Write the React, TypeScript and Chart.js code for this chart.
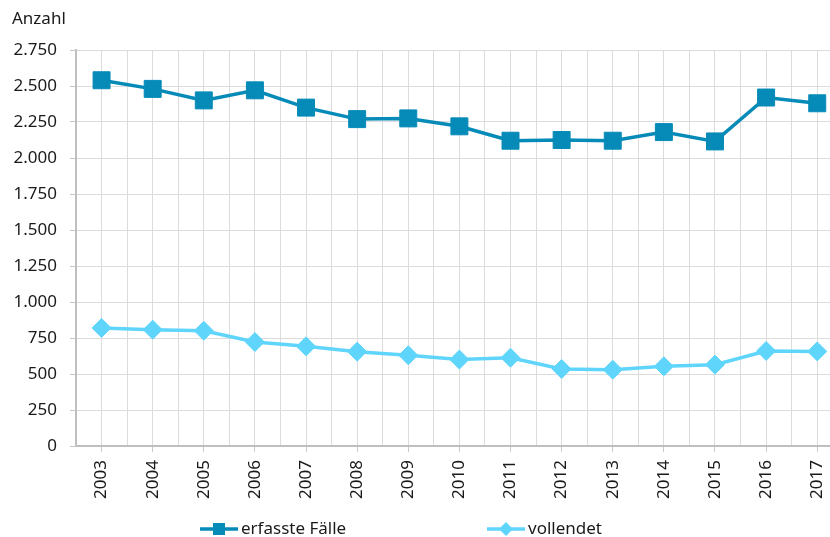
import React, { useEffect, useRef } from 'react';
import { Chart, registerables } from 'chart.js';

Chart.register(...registerables);

// ---- data ----
const years = ['2003', '2004', '2005', '2006', '2007', '2008', '2009', '2010', '2011', '2012', '2013', '2014', '2015', '2016', '2017'];
const erfassteFaelle = [2540, 2480, 2400, 2470, 2350, 2270, 2275, 2220, 2120, 2125, 2120, 2180, 2115, 2420, 2380];
const vollendet = [820, 808, 800, 722, 692, 655, 630, 600, 613, 535, 530, 553, 565, 660, 657];
const seriesLabels = ['erfasste Fälle', 'vollendet'];
const yAxisTitle = 'Anzahl';
const yMax = 2750;
const yStep = 250;

// ---- style ----
const DARK = '#068bb8';
const LIGHT = '#5fd5fc';
const TEXT = '#1a1a1a';
const GRID = '#dcdcdc';
const AXIS = '#bfbfbf';
const FONT = '"Noto Sans", "Open Sans", sans-serif';
const FS = 17;

const fmt = (v: number) => String(v).replace(/\B(?=(\d{3})+(?!\d))/g, '.');

export default function App() {
  const ref = useRef<HTMLCanvasElement>(null);

  useEffect(() => {
    document.body.style.margin = '0';
    const canvas = ref.current!;

    const overlay = {
      id: 'overlay',
      afterDraw(chart: any) {
        const ctx = chart.ctx as CanvasRenderingContext2D;
        ctx.save();
        ctx.fillStyle = TEXT;
        ctx.font = `${FS}px ${FONT}`;
        ctx.textAlign = 'left';
        ctx.textBaseline = 'alphabetic';
        ctx.fillText(yAxisTitle, 12, 24);

        const items = [
          { x0: 200, color: DARK, style: 'rect', label: seriesLabels[0] },
          { x0: 487, color: LIGHT, style: 'diamond', label: seriesLabels[1] },
        ];
        const y = 529;
        for (const it of items) {
          ctx.strokeStyle = it.color;
          ctx.lineWidth = 3.5;
          ctx.beginPath();
          ctx.moveTo(it.x0, y);
          ctx.lineTo(it.x0 + 38, y);
          ctx.stroke();
          ctx.fillStyle = it.color;
          const cx = it.x0 + 19;
          if (it.style === 'rect') {
            ctx.fillRect(cx - 6, y - 6, 12, 12);
          } else {
            ctx.beginPath();
            ctx.moveTo(cx, y - 7);
            ctx.lineTo(cx + 7, y);
            ctx.lineTo(cx, y + 7);
            ctx.lineTo(cx - 7, y);
            ctx.closePath();
            ctx.fill();
          }
          ctx.fillStyle = TEXT;
          ctx.textBaseline = 'middle';
          ctx.fillText(it.label, it.x0 + 41, y);
        }
        ctx.restore();
      },
    };

    const chart = new Chart(canvas, {
      type: 'line',
      data: {
        datasets: [
          {
            label: seriesLabels[0],
            data: erfassteFaelle.map((v, i) => ({ x: i, y: v })),
            borderColor: DARK,
            backgroundColor: DARK,
            borderWidth: 3.5,
            pointStyle: 'rect',
            pointRadius: 12,
            pointBorderWidth: 1,
            pointBackgroundColor: DARK,
            pointBorderColor: DARK,
            tension: 0,
          },
          {
            label: seriesLabels[1],
            data: vollendet.map((v, i) => ({ x: i, y: v })),
            borderColor: LIGHT,
            backgroundColor: LIGHT,
            borderWidth: 3.5,
            pointStyle: 'rectRot',
            pointRadius: 9.5,
            pointBorderWidth: 1,
            pointBackgroundColor: LIGHT,
            pointBorderColor: LIGHT,
            tension: 0,
          },
        ],
      },
      options: {
        animation: false,
        responsive: false,
        layout: { autoPadding: false, padding: { top: 50, right: 0, bottom: 31, left: 0 } },
        plugins: {
          legend: { display: false },
          tooltip: { enabled: false },
          title: { display: false },
        },
        scales: {
          x: {
            type: 'linear',
            min: -0.5,
            max: 14.25,
            afterFit: (s: any) => {
              s.height = 60;
              s.paddingLeft = 0;
              s.paddingRight = 0;
            },
            grid: {
              color: GRID,
              lineWidth: 1,
              tickLength: 6,
              tickColor: (c: any) => (Number.isInteger(c.tick?.value) ? '#c8c8c8' : 'rgba(0,0,0,0)'),
            },
            border: { color: AXIS, width: 2 },
            ticks: {
              stepSize: 0.5,
              includeBounds: false,
              autoSkip: false,
              maxRotation: 90,
              minRotation: 90,
              padding: 8,
              color: TEXT,
              font: { family: FONT, size: FS },
              callback: (v: any) => (Number.isInteger(v) ? years[v] ?? '' : ''),
            },
          },
          y: {
            min: 0,
            max: yMax,
            afterFit: (s: any) => {
              s.width = 76;
              s.paddingTop = 0;
              s.paddingBottom = 0;
            },
            grid: { color: GRID, lineWidth: 1, tickLength: 6, tickColor: '#c8c8c8' },
            border: { color: AXIS, width: 2 },
            ticks: {
              stepSize: yStep,
              padding: 13,
              color: TEXT,
              font: { family: FONT, size: FS },
              callback: (v: any) => fmt(Number(v)),
            },
          },
        },
      },
      plugins: [overlay],
    });

    return () => chart.destroy();
  }, []);

  return <canvas ref={ref} width={830} height={537} style={{ display: 'block' }} />;
}
